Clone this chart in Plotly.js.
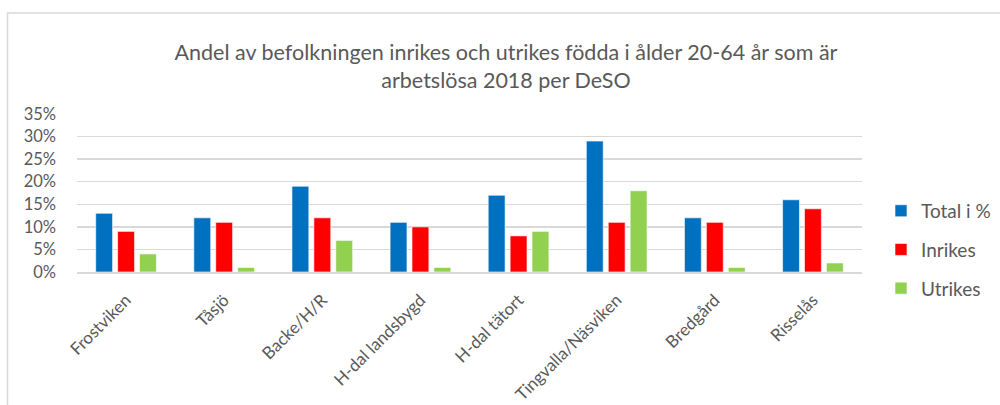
<!DOCTYPE html>
<html>
<head>
<meta charset="utf-8">
<script src="https://cdn.plot.ly/plotly-3.0.1.min.js"></script>
<style>
html,body{margin:0;padding:0;background:#fff;}
#chart{width:1000px;height:405px;}
</style>
</head>
<body>
<div id="chart"></div>
<script>
const categories = ["Frostviken", "Tåsjö", "Backe/H/R", "H-dal landsbygd", "H-dal tätort", "Tingvalla/Näsviken", "Bredgård", "Risselås"];
const total = [13, 12, 19, 11, 17, 29, 12, 16];
const inrikes = [9, 11, 12, 10, 8, 11, 11, 14];
const utrikes = [4, 1, 7, 1, 9, 18, 1, 2];
const seriesNames = ["Total i %", "Inrikes", "Utrikes"];
const colors = ["#0070C0", "#FF0000", "#92D050"];
const yTicks = [0, 5, 10, 15, 20, 25, 30, 35];
const yTickLabels = yTicks.map(v => v + "%");

const font = "Lato, 'Open Sans', sans-serif";
const grey = "#595959";

const data = [total, inrikes, utrikes].map((vals, i) => ({
  type: "bar",
  x: categories,
  y: vals,
  name: seriesNames[i],
  legendgroup: "g" + i,
  marker: {color: colors[i], line: {color: "rgba(255,255,255,0.6)", width: 1}},
  hoverinfo: "x+y"
}));

const layout = {
  width: 1000,
  height: 405,
  margin: {l: 77, r: 138, t: 114, b: 133, autoexpand: false},
  paper_bgcolor: "#fff",
  plot_bgcolor: "#fff",
  barmode: "group",
  bargap: 0.33,
  bargroupgap: 0.23,
  title: {
    text: "Andel av befolkningen inrikes och utrikes födda i ålder 20-64 år som är<br>arbetslösa 2018 per DeSO",
    font: {family: font, size: 21.5, color: grey},
    x: 0.506, xanchor: "center", xref: "container",
    y: 0.852, yanchor: "middle", yref: "container"
  },
  font: {family: font, color: grey},
  xaxis: {
    tickangle: -45,
    tickfont: {family: font, size: 17, color: grey},
    ticklabelstandoff: 10,
    showgrid: false,
    showline: true,
    linecolor: "#d9d9d9",
    linewidth: 1.5,
    ticks: "",
    fixedrange: true
  },
  yaxis: {
    range: [0, 35],
    tickvals: yTicks,
    ticktext: yTickLabels,
    tickfont: {family: font, size: 16.5, color: grey},
    ticklabelstandoff: 20,
    showgrid: true,
    gridcolor: "#d9d9d9",
    gridwidth: 1.3,
    zeroline: false,
    showline: false,
    ticks: "",
    fixedrange: true
  },
  legend: {
    xref: "container", x: 0.881, xanchor: "left",
    y: 0.507, yanchor: "top",
    font: {family: font, size: 19, color: grey},
    traceorder: "grouped",
    tracegroupgap: 11,
    itemwidth: 30,
    bgcolor: "rgba(0,0,0,0)"
  },
  shapes: [{
    type: "rect", xref: "paper", yref: "paper",
    x0: -0.0885, x1: 1.3, y0: -1.5, y1: 1.64,
    line: {color: "#d9d9d9", width: 1.5},
    fillcolor: "rgba(0,0,0,0)",
    layer: "below"
  }],
  showlegend: true
};

Plotly.newPlot("chart", data, layout, {displayModeBar: false, staticPlot: true});
</script>
</body>
</html>
